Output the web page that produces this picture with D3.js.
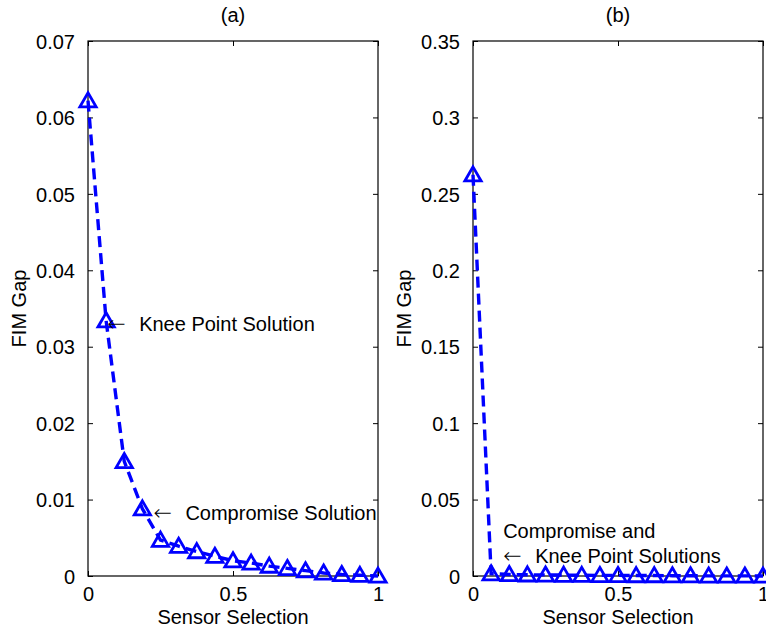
<!DOCTYPE html>
<html><head><meta charset="utf-8">
<script src="https://cdn.jsdelivr.net/npm/d3@7"></script>
<style>body{margin:0;background:#fff}text{font-family:"Liberation Sans",Arial,Helvetica,sans-serif}</style>
</head><body>
<svg id="c" width="766" height="632"></svg>
<script>
const xValues = [0,0.0625,0.125,0.1875,0.25,0.3125,0.375,0.4375,0.5,0.5625,0.625,0.6875,0.75,0.8125,0.875,0.9375,1];
const gapA = [0.0622,0.0334,0.0150,0.0088,0.0047,0.0039,0.0032,0.0026,0.0020,0.0017,0.0013,0.0010,0.0007,0.0004,0.0002,0.0001,0.0000];
const gapB = [0.2625,0.0015,0.0010,0.0008,0.0007,0.0006,0.0005,0.0004,0.0004,0.0003,0.0003,0.0002,0.0002,0.0001,0.0001,0.0001,0.0000];
const xTicks = [0,0.5,1];
const yTicksA = [0,0.01,0.02,0.03,0.04,0.05,0.06,0.07];
const yTicksB = [0,0.05,0.1,0.15,0.2,0.25,0.3,0.35];
const panels = [
  {title:"(a)", data:gapA, ymax:0.07, yticks:yTicksA, left:88, right:378,
   notes:[{i:1,dx:1,dy:10,lines:[["\u2190","Knee Point Solution"]]},{i:3,dx:11,dy:11,lines:[["\u2190","Compromise Solution"]]}]},
  {title:"(b)", data:gapB, ymax:0.35, yticks:yTicksB, left:473, right:763,
   notes:[{i:1,dx:12,dy:-11,lines:[["","Compromise and"],["\u2190","Knee Point Solutions"]]}]}
];
const plotTop=41, plotBottom=576;
const svg=d3.select("#c");
const fs=20;
const fmt=d=>d===0?"0":String(+d.toFixed(2));
panels.forEach((p,pi)=>{
  const x=d3.scaleLinear().domain([0,1]).range([p.left,p.right]);
  const y=d3.scaleLinear().domain([0,p.ymax]).range([plotBottom,plotTop]);
  const g=svg.append("g");
  const ax=g.append("g").attr("transform",`translate(0,${plotBottom})`).call(d3.axisBottom(x).tickValues(xTicks).tickSizeInner(-5).tickSizeOuter(0).tickPadding(11).tickFormat(d=>String(d)));
  const axt=g.append("g").attr("transform",`translate(0,${plotTop})`).call(d3.axisTop(x).tickValues(xTicks).tickSizeInner(-5).tickSizeOuter(0).tickFormat(""));
  const ay=g.append("g").attr("transform",`translate(${p.left},0)`).call(d3.axisLeft(y).tickValues(p.yticks).tickSizeInner(-5).tickSizeOuter(0).tickPadding(13).tickFormat(fmt));
  const ayr=g.append("g").attr("transform",`translate(${p.right},0)`).call(d3.axisRight(y).tickValues(p.yticks).tickSizeInner(-5).tickSizeOuter(0).tickFormat(""));
  [ax,axt,ay,ayr].forEach(a=>{a.selectAll("path").remove();a.selectAll("line").attr("stroke","#000").attr("stroke-width",1);a.selectAll("text").attr("font-size",fs).attr("fill","#000").attr("font-family","Liberation Sans, Arial, sans-serif");});
  ax.selectAll("text").attr("dy","0.71em");
  ay.selectAll("text").attr("dy","0.36em");
  g.append("rect").attr("x",p.left).attr("y",plotTop).attr("width",p.right-p.left).attr("height",plotBottom-plotTop).attr("fill","none").attr("stroke","#000").attr("stroke-width",1.2);
  const pts=xValues.map((v,i)=>[v,p.data[i]]);
  g.append("path").datum(pts).attr("fill","none").attr("stroke","#0000ff").attr("stroke-width",3.4).attr("stroke-dasharray","11,6")
   .attr("d",d3.line().x(d=>x(d[0])).y(d=>y(d[1])));
  const tri=d3.symbol().type(d3.symbolTriangle).size(115);
  g.selectAll(".m").data(pts).join("path").attr("transform",d=>`translate(${x(d[0])},${y(d[1])+1.5})`).attr("d",tri())
   .attr("fill","none").attr("stroke","#0000ff").attr("stroke-width",2.8);
  p.notes.forEach(n=>{
    const px=x(xValues[n.i]), py=y(p.data[n.i]);
    const nl=n.lines.length;
    n.lines.forEach((ln,li)=>{
      const t=g.append("text").attr("font-size",fs).attr("fill","#000")
        .attr("x",px+n.dx).attr("y",py+n.dy+(li-(nl-1))*25);
      if(ln[0]){
        t.append("tspan").attr("font-family","DejaVu Sans").attr("font-size",fs+2).attr("font-weight",200).text(ln[0]);
        t.append("tspan").attr("x",px+n.dx+32).text(ln[1]);
      } else t.append("tspan").text(ln[1]);
    });
  });
  g.append("text").attr("x",(p.left+p.right)/2).attr("y",22).attr("text-anchor","middle").attr("font-size",fs).text(p.title);
  g.append("text").attr("x",(p.left+p.right)/2).attr("y",624).attr("text-anchor","middle").attr("font-size",fs).text("Sensor Selection");
  g.append("text").attr("transform",`translate(${p.left-62},${(plotTop+plotBottom)/2}) rotate(-90)`).attr("text-anchor","middle").attr("font-size",fs).text("FIM Gap");
});
</script>
</body></html>
